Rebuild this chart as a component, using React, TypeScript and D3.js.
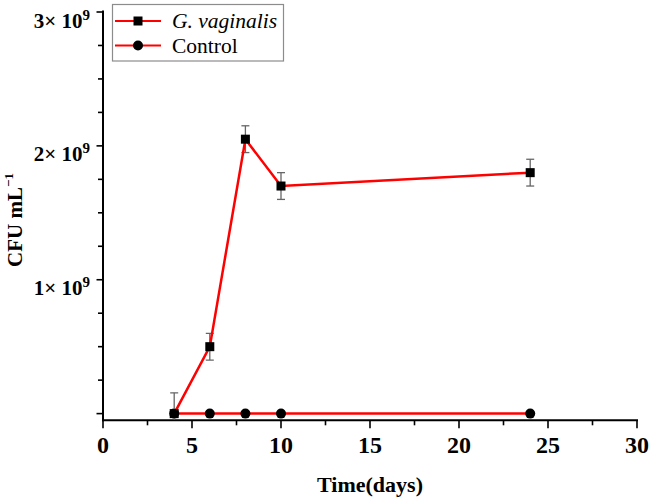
import { useEffect, useRef } from 'react'
import * as d3 from 'd3'

// days sampled
const days = [4, 6, 8, 10, 24]
// G. vaginalis counts (CFU/mL) and standard deviations
const gvValues = [0.0e9, 0.5e9, 2.05e9, 1.7e9, 1.8e9]
const gvErrors = [0.155e9, 0.1e9, 0.1e9, 0.1e9, 0.1e9]
// control counts
const ctrlValues = [0, 0, 0, 0, 0]

const xTicks = [0, 5, 10, 15, 20, 25, 30]
const yMajorTicks = [0, 1e9, 2e9, 3e9]
const yTickLabels = ['', '1', '2', '3']

const seriesNames = ['G. vaginalis', 'Control']

export default function App() {
  const svgRef = useRef<SVGSVGElement>(null)

  useEffect(() => {
    if (!svgRef.current) return
    const svg = d3.select(svgRef.current)
    svg.selectAll('*').remove()

    const font = "'Liberation Serif', serif"
    const left = 103
    const right = 637
    const top = 12
    const bottom = 420.3

    const x = d3.scaleLinear().domain([0, 30]).range([left, right])
    const y = d3.scaleLinear().domain([-0.05e9, 3e9]).range([bottom, top])

    const defs = svg.append('defs')
    defs.append('clipPath').attr('id', 'plot-clip')
      .append('rect')
      .attr('x', left).attr('y', 0)
      .attr('width', right - left).attr('height', bottom - 0.5)

    // axes
    const axes = svg.append('g').attr('stroke', '#000').attr('fill', 'none')
    axes.append('line')
      .attr('x1', left).attr('x2', left)
      .attr('y1', top - 1.5).attr('y2', bottom + 1)
      .attr('stroke-width', 2)
    axes.append('line')
      .attr('x1', left - 1).attr('x2', right + 1)
      .attr('y1', bottom).attr('y2', bottom)
      .attr('stroke-width', 2)

    // y ticks (major + minor every 0.25e9)
    const yAll = d3.range(0, 12.01, 1).map(i => i * 0.25e9)
    axes.selectAll('.ytick')
      .data(yAll)
      .enter()
      .append('line')
      .attr('x1', left)
      .attr('x2', (d, i) => left - (i % 4 === 0 ? 6.5 : 5))
      .attr('y1', d => y(d))
      .attr('y2', d => y(d))
      .attr('stroke-width', 1.6)

    // x ticks (major + minor every 2.5)
    const xAll = d3.range(0, 12.01, 1).map(i => i * 2.5)
    axes.selectAll('.xtick')
      .data(xAll)
      .enter()
      .append('line')
      .attr('x1', d => x(d))
      .attr('x2', d => x(d))
      .attr('y1', bottom)
      .attr('y2', (d, i) => bottom + (i % 2 === 0 ? 8 : 5))
      .attr('stroke-width', 1.6)

    // x tick labels
    svg.append('g')
      .selectAll('text')
      .data(xTicks)
      .enter()
      .append('text')
      .attr('x', d => x(d))
      .attr('y', 453)
      .attr('text-anchor', 'middle')
      .style('font-family', font)
      .style('font-weight', 'bold')
      .style('font-size', '24px')
      .text(d => d)

    // y tick labels like "2× 10^9"
    const yl = svg.append('g')
      .selectAll('text')
      .data(yMajorTicks.filter((d, i) => yTickLabels[i] !== ''))
      .enter()
      .append('text')
      .attr('x', 90)
      .attr('y', d => y(d) + 15.5)
      .attr('text-anchor', 'end')
      .style('font-family', font)
      .style('font-weight', 'bold')
      .style('font-size', '21px')
    yl.append('tspan').text(d => `${yTickLabels[yMajorTicks.indexOf(d)]}× 10`)
    yl.append('tspan')
      .style('font-size', '15px')
      .attr('dy', -8)
      .text('9')

    // axis titles
    svg.append('text')
      .attr('x', (left + right) / 2)
      .attr('y', 492)
      .attr('text-anchor', 'middle')
      .style('font-family', font)
      .style('font-weight', 'bold')
      .style('font-size', '22px')
      .text('Time(days)')

    const yt = svg.append('text')
      .attr('transform', 'translate(22,220) rotate(-90)')
      .attr('text-anchor', 'middle')
      .style('font-family', font)
      .style('font-weight', 'bold')
      .style('font-size', '21px')
    yt.append('tspan').text('CFU mL')
    yt.append('tspan').style('font-size', '13px').attr('dy', -9).text('−1')

    const plot = svg.append('g').attr('clip-path', 'url(#plot-clip)')

    const line = d3.line<number>()
      .x((d, i) => x(days[i]))
      .y(d => y(d))

    // control series
    plot.append('path')
      .datum(ctrlValues)
      .attr('d', line)
      .attr('fill', 'none')
      .attr('stroke', '#ff0000')
      .attr('stroke-width', 2.5)
    plot.selectAll('.ctrl')
      .data(ctrlValues)
      .enter()
      .append('circle')
      .attr('cx', (d, i) => x(days[i]))
      .attr('cy', d => y(d))
      .attr('r', 5)
      .attr('fill', '#000')

    // G. vaginalis error bars
    const eb = plot.selectAll('.err')
      .data(gvValues)
      .enter()
      .append('g')
      .attr('stroke', '#666')
      .attr('stroke-width', 1.3)
    eb.append('line')
      .attr('x1', (d, i) => x(days[i]))
      .attr('x2', (d, i) => x(days[i]))
      .attr('y1', (d, i) => y(d + gvErrors[i]))
      .attr('y2', (d, i) => y(d - gvErrors[i]))
    eb.append('line')
      .attr('x1', (d, i) => x(days[i]) - 4)
      .attr('x2', (d, i) => x(days[i]) + 4)
      .attr('y1', (d, i) => y(d + gvErrors[i]))
      .attr('y2', (d, i) => y(d + gvErrors[i]))
    eb.append('line')
      .attr('x1', (d, i) => x(days[i]) - 4)
      .attr('x2', (d, i) => x(days[i]) + 4)
      .attr('y1', (d, i) => y(d - gvErrors[i]))
      .attr('y2', (d, i) => y(d - gvErrors[i]))

    plot.append('path')
      .datum(gvValues)
      .attr('d', line)
      .attr('fill', 'none')
      .attr('stroke', '#ff0000')
      .attr('stroke-width', 2.5)
    plot.selectAll('.gv')
      .data(gvValues)
      .enter()
      .append('rect')
      .attr('x', (d, i) => x(days[i]) - 4.5)
      .attr('y', d => y(d) - 4.5)
      .attr('width', 9)
      .attr('height', 9)
      .attr('fill', '#000')

    // legend
    const lg = svg.append('g')
    lg.append('rect')
      .attr('x', 112.5).attr('y', 4.5)
      .attr('width', 171).attr('height', 56.5)
      .attr('fill', '#fff')
      .attr('stroke', '#8c8c8c')
      .attr('stroke-width', 1.2)
    seriesNames.forEach((name, i) => {
      const ry = 21 + i * 24.5
      lg.append('line')
        .attr('x1', 115).attr('x2', 161)
        .attr('y1', ry).attr('y2', ry)
        .attr('stroke', '#ff0000')
        .attr('stroke-width', 2.2)
      if (i === 0) {
        lg.append('rect')
          .attr('x', 133.5).attr('y', ry - 4.5)
          .attr('width', 9).attr('height', 9)
          .attr('fill', '#000')
      } else {
        lg.append('circle')
          .attr('cx', 138).attr('cy', ry)
          .attr('r', 5)
          .attr('fill', '#000')
      }
      lg.append('text')
        .attr('x', 172)
        .attr('y', ry + 7)
        .style('font-family', font)
        .style('font-size', '21.5px')
        .style('font-style', i === 0 ? 'italic' : 'normal')
        .text(name)
    })
  }, [])

  return (
    <svg
      ref={svgRef}
      width={654}
      height={500}
      style={{ position: 'absolute', left: 0, top: 0, background: '#fff' }}
    />
  )
}
